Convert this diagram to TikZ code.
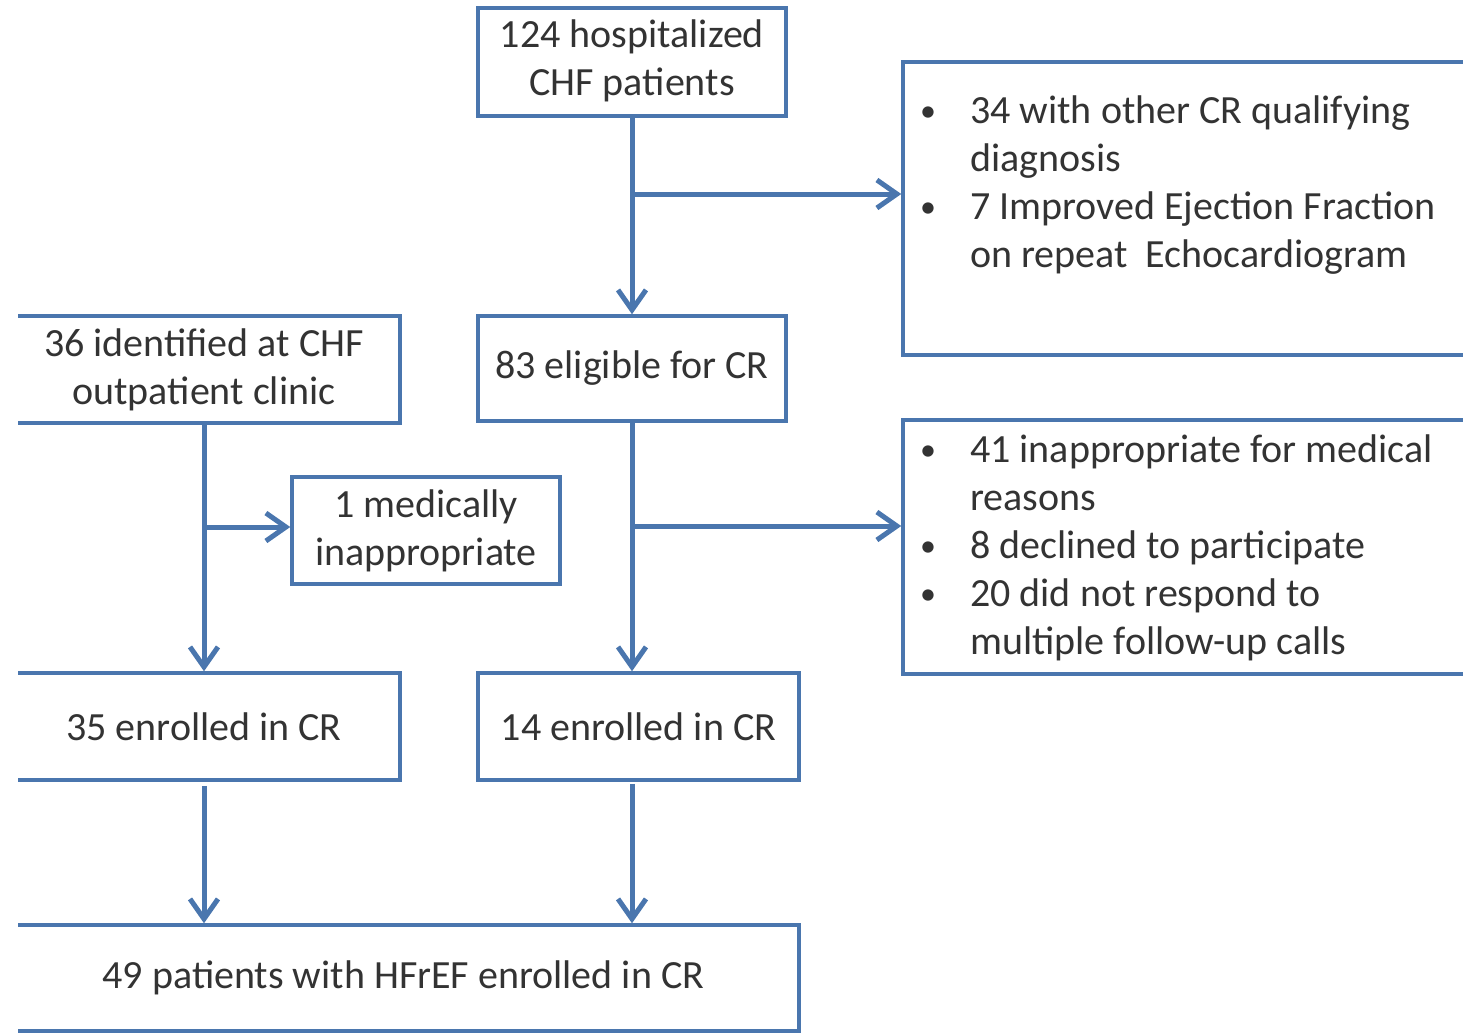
\documentclass[tikz,border=0pt]{standalone}
\usepackage{fontspec}
\setmainfont{Carlito}
\usetikzlibrary{arrows.meta}
\definecolor{flowblue}{HTML}{4A76AE}
\definecolor{inkgrey}{HTML}{333333}
% small list bullet
\newcommand{\listdot}{\raisebox{2pt}{\fontsize{32}{48}\selectfont •}}
\begin{document}
\begin{tikzpicture}[x=1pt,y=-1pt,
  box/.style={draw=flowblue, line width=3.5pt, inner sep=0pt, text=inkgrey,
    font=\fontsize{40}{48}\selectfont, align=center},
  link/.style={draw=flowblue, line width=5pt,
    -{Straight Barb[length=20pt,width=28pt,line width=5pt]}},
  note/.style={text=inkgrey, font=\fontsize{40}{48}\selectfont,
    inner sep=0pt, anchor=base west}
]
\useasboundingbox (0,0) rectangle (1463,1034);
\clip (18,0) rectangle (1463,1034);

% boxes
\node[box, minimum width=308pt, minimum height=108pt] (top) at (632,62)
  {\raisebox{-2pt}{\begin{tabular}{@{}c@{}}124 hospitalized\\CHF patients\end{tabular}}};
\node[box, minimum width=572pt, minimum height=293pt] (right1) at (1189,208.5) {};
\node[box, minimum width=392pt, minimum height=107pt] (b36) at (204,369.5)
  {36 identified at CHF\\outpatient clinic};
\node[box, minimum width=308pt, minimum height=105pt] (b83) at (632,368.5)
  {83 eligible for CR};
\node[box, minimum width=268pt, minimum height=107pt] (b1) at (426,530.5)
  {1 medically\\inappropriate};
\node[box, minimum width=572pt, minimum height=254pt] (right2) at (1189,547) {};
\node[box, minimum width=392pt, minimum height=107pt] (b35) at (204,726.5)
  {35 enrolled in CR};
\node[box, minimum width=321pt, minimum height=107pt] (b14) at (638.5,726.5)
  {14 enrolled in CR};
\node[box, minimum width=791pt, minimum height=106pt] (b49) at (403.5,978)
  {49 patients with HFrEF enrolled in CR};

% bullet lists inside the exclusion boxes
\node[note] (list1) at (920,123) {\begin{tabular}[t]{@{}p{50pt}@{}l@{}}
  \listdot & 34 with other CR qualifying\\
    & diagnosis\\
  \listdot & 7 Improved Ejection Fraction\\
    & on repeat~ Echocardiogram
\end{tabular}};
\node[note] (list2) at (920,462) {\begin{tabular}[t]{@{}p{50pt}@{}l@{}}
  \listdot & 41 inappropriate for medical\\
    & reasons\\
  \listdot & 8 declined to participate\\
  \listdot & 20 did not respond to\\
    & multiple follow-up calls
\end{tabular}};

% junctions on the vertical flow lines
\coordinate (j1) at (632,194);
\coordinate (j2) at (632,526);
\coordinate (j3) at (204,527);

% connectors
\draw[link] (top.south) -- (b83.north);
\draw[link] (j1) -- (j1 -| right1.west);
\draw[link] (b83.south) -- (b83.south |- b14.north);
\draw[link] (j2) -- (j2 -| right2.west);
\draw[link] (b36.south) -- (b35.north);
\draw[link] (j3) -- (j3 -| b1.west);
\draw[link] ([yshift=-4pt]b35.south) -- (b35.south |- b49.north);
\draw[link] ([yshift=-2pt]b83.south |- b14.south) -- (b83.south |- b49.north);
\end{tikzpicture}
\end{document}
